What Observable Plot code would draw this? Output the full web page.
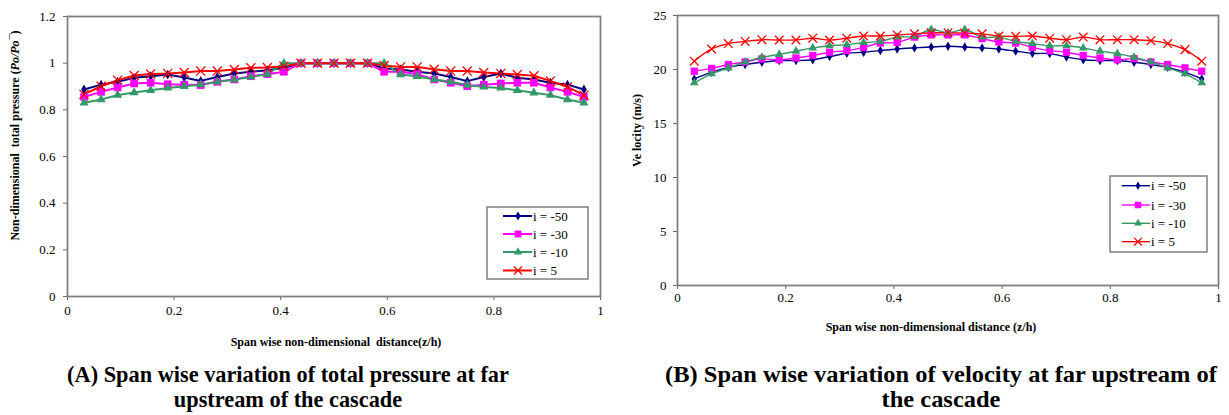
<!DOCTYPE html>
<html><head><meta charset="utf-8">
<script src="https://cdn.jsdelivr.net/npm/d3@7"></script>
<script src="https://cdn.jsdelivr.net/npm/@observablehq/plot@0.6"></script>
<style>
body{margin:0;background:#fff;width:1229px;height:415px;position:relative;overflow:hidden;font-family:"Liberation Serif",serif;color:#000}
#a,#b{position:absolute;top:0}
#a{left:0}#b{left:615px}
svg text{white-space:pre}
.cap{position:absolute;font-weight:bold;font-size:24px;line-height:25px;white-space:nowrap;text-align:center;}
#capA{transform:translateX(-50%) scaleX(0.93);}
#capB{transform:translateX(-50%) scaleX(1.02);}
</style></head><body>
<div id="a"></div><div id="b"></div>
<div class="cap" id="capA" style="left:288px;top:362px">(A) Span wise variation of total pressure at far<br>upstream of the cascade</div>
<div class="cap" id="capB" style="left:941px;top:362px">(B) Span wise variation of velocity at far upstream of<br>the cascade</div>
<script>
// ---------- data ----------
const seriesNames = ["i = -50", "i = -30", "i = -10", "i = 5"];
const seriesColors = ["#000080", "#ff00ff", "#339966", "#ff0000"];
const seriesSymbols = ["diamond", "square", "triangle", "times"];

const span = [0.031,0.063,0.094,0.125,0.156,0.188,0.219,0.25,0.281,0.313,0.344,0.375,0.406,0.438,0.469,0.5,
              0.531,0.563,0.594,0.625,0.656,0.688,0.719,0.75,0.781,0.813,0.844,0.875,0.906,0.938,0.969];

// (A) total pressure
const pM50 = [0.887,0.908,0.920,0.937,0.944,0.951,0.939,0.924,0.941,0.956,0.963,0.970,0.980,1,1,1,1,1,0.977,0.973,0.963,0.956,0.941,0.923,0.941,0.956,0.937,0.930,0.916,0.908,0.887];
const pM30 = [0.855,0.877,0.896,0.913,0.916,0.910,0.908,0.906,0.920,0.930,0.944,0.953,0.963,1,1,1,1,1,0.963,0.963,0.953,0.930,0.916,0.901,0.908,0.913,0.916,0.916,0.896,0.877,0.855];
const pM10 = [0.830,0.844,0.863,0.874,0.884,0.894,0.901,0.908,0.920,0.930,0.941,0.953,1,1,1,1,1,1,1,0.951,0.944,0.930,0.920,0.906,0.898,0.894,0.884,0.873,0.863,0.844,0.830];
const pP5  = [0.866,0.901,0.927,0.947,0.954,0.956,0.960,0.966,0.966,0.973,0.980,0.981,0.987,1,1,1,1,1,0.990,0.984,0.984,0.974,0.966,0.966,0.960,0.956,0.951,0.946,0.924,0.898,0.863];

// (B) velocity
const vM50 = [19.13,19.75,20.2,20.46,20.67,20.83,20.83,20.9,21.2,21.5,21.6,21.75,21.9,22.0,22.08,22.15,22.08,22.0,21.9,21.7,21.5,21.47,21.16,20.9,20.83,20.83,20.67,20.46,20.2,19.75,19.13];
const vM30 = [19.84,20.1,20.46,20.7,20.98,20.9,21.07,21.3,21.6,21.75,22.05,22.45,22.5,23.0,23.2,23.2,23.2,22.86,22.55,22.45,22.05,21.75,21.6,21.3,21.07,20.9,21.0,20.7,20.46,20.15,19.84];
const vM10 = [18.77,19.6,20.15,20.7,21.13,21.4,21.7,22.0,22.2,22.3,22.5,22.6,23.0,23.07,23.7,23.4,23.7,23.0,23.0,22.6,22.4,22.2,22.2,22.0,21.7,21.47,21.13,20.7,20.15,19.6,18.77];
const vP5  = [20.77,21.9,22.4,22.6,22.76,22.73,22.73,22.9,22.73,22.9,23.1,23.1,23.2,23.3,23.4,23.4,23.37,23.3,23.1,23.07,23.1,22.9,22.76,23.0,22.76,22.76,22.76,22.67,22.4,21.84,20.77];

const xTicks = [0, 0.2, 0.4, 0.6, 0.8, 1];
const xTickLabels = ["0", "0.2", "0.4", "0.6", "0.8", "1"];
const yTicksA = [0, 0.2, 0.4, 0.6, 0.8, 1, 1.2];
const yTickLabelsA = ["0", "0.2", "0.4", "0.6", "0.8", "1", "1.2"];
const yTicksB = [0, 5, 10, 15, 20, 25];
const yTickLabelsB = ["0", "5", "10", "15", "20", "25"];

const xTitleA = "Span wise non-dimensional  distance(z/h)";
const yTitleA = "Non-dimensional  total pressure (Po/Po\u00AF)";
const xTitleB = "Span wise non-dimensional distance (z/h)";
const yTitleB = "Ve locity (m/s)";

// ---------- helpers ----------
function table(arrs) {
  const rows = [];
  arrs.forEach((vals, si) => vals.forEach((v, i) => rows.push({x: span[i], v, s: seriesNames[si]})));
  return rows;
}
const symSize = {"i = -50": 3.0, "i = -30": 4.3, "i = -10": 3.4, "i = 5": 4.2};

function chart(o) {
  const rows = table(o.series);
  const dotMarks = seriesNames.map(n => {
    const sub = rows.filter(d => d.s === n);
    return n === "i = 5"
      ? Plot.dot(sub, {x: "x", y: "v", symbol: "s", stroke: "s", r: symSize[n] * o.ms, strokeWidth: 1.3})
      : Plot.dot(sub, {x: "x", y: "v", symbol: "s", fill: "s", r: symSize[n] * o.ms});
  });
  return Plot.plot({
    width: o.width, height: o.height,
    marginLeft: o.ml, marginRight: o.mr, marginTop: o.mt, marginBottom: o.mb,
    style: {fontFamily: "'Liberation Serif', serif", fontSize: "13px", color: "#000", background: "transparent"},
    x: {domain: [0, 1]},
    y: {domain: o.ydomain},
    color: {domain: seriesNames, range: seriesColors},
    symbol: {domain: seriesNames, range: seriesSymbols},
    marks: [
      Plot.axisX({ticks: xTicks, tickFormat: d => xTickLabels[xTicks.indexOf(d)], tickSize: 4, tickPadding: o.xpad, label: null, stroke: "#666"}),
      Plot.axisY({ticks: o.yticks, tickFormat: d => o.ylabels[o.yticks.indexOf(d)], tickSize: 4, tickPadding: o.ypad, label: null, stroke: "#666"}),
      Plot.frame({stroke: "#808080", strokeWidth: 1.8}),
      Plot.line(rows, {x: "x", y: "v", z: "s", stroke: "s", strokeWidth: o.sw, curve: o.curve}),
      ...dotMarks,
      Plot.text([o.xTitle], {frameAnchor: "bottom", text: d => d, dx: o.xtdx, dy: o.xtdy, lineAnchor: "middle", textAnchor: "middle", fontWeight: "bold", fontSize: 12}),
      Plot.text([o.yTitle], {frameAnchor: "left", text: d => d, dx: o.ytdx, dy: o.ytdy, rotate: -90, lineAnchor: "middle", textAnchor: "middle", fontWeight: "bold", fontSize: 12})
    ]
  });
}

function addLegend(svg, L) {
  const g = d3.select(svg).append("g");
  g.append("rect").attr("x", L.x).attr("y", L.y).attr("width", L.w).attr("height", L.h)
    .attr("fill", "#fff").attr("stroke", "#808080").attr("stroke-width", 1.5);
  seriesNames.forEach((n, i) => {
    const y = L.rows[i];
    g.append("line").attr("x1", L.l1).attr("x2", L.l2).attr("y1", y).attr("y2", y)
      .attr("stroke", seriesColors[i]).attr("stroke-width", L.sw);
    const sym = [d3.symbolDiamond, d3.symbolSquare, d3.symbolTriangle, d3.symbolTimes][i];
    const r = symSize[n] * L.ms;
    const p = g.append("path").attr("d", d3.symbol(sym, Math.PI * r * r)())
      .attr("transform", `translate(${L.mx},${y})`);
    if (n === "i = 5") p.attr("fill", "none").attr("stroke", seriesColors[i]).attr("stroke-width", 1.3);
    else p.attr("fill", seriesColors[i]);
    g.append("text").attr("x", L.tx).attr("y", y).attr("dy", "0.35em").attr("text-anchor", "start")
      .attr("font-family", "'Liberation Serif', serif").attr("font-size", 13).attr("fill", "#000").text(n);
  });
}

// ---------- chart A ----------
const svgA = chart({
  series: [pM50, pM30, pM10, pP5], width: 615, height: 360, ml: 67, mr: 15, mt: 16, mb: 64,
  ydomain: [0, 1.2], yticks: yTicksA, ylabels: yTickLabelsA, xpad: 5, ypad: 8, sw: 2, ms: 1, curve: "linear",
  xTitle: xTitleA, yTitle: yTitleA, xtdx: 2, xtdy: 46, ytdx: -52, ytdy: -21
});
document.getElementById("a").appendChild(svgA);
addLegend(svgA, {x: 487, y: 207, w: 101, h: 72, rows: [216, 234, 252, 270.5], l1: 503, l2: 532, mx: 518, tx: 533, sw: 2, ms: 0.9});

// italic Po/Po
d3.select(svgA).selectAll("text").filter(function () { return this.textContent === yTitleA; }).each(function () {
  const t = d3.select(this);
  t.text(null);
  t.append("tspan").text("Non-dimensional  total pressure (");
  t.append("tspan").attr("font-style", "italic").text("Po/Po\u00AF");
  t.append("tspan").text(")");
});

// ---------- chart B ----------
const svgB = chart({
  series: [vM50, vM30, vM10, vP5], width: 614, height: 345, ml: 62, mr: 11, mt: 15, mb: 60,
  ydomain: [0, 25], yticks: yTicksB, ylabels: yTickLabelsB, xpad: 3, ypad: 7, sw: 1.4, ms: 0.95, curve: "catmull-rom",
  xTitle: xTitleB, yTitle: yTitleB, xtdx: -17, xtdy: 42, ytdx: -40, ytdy: -20
});
document.getElementById("b").appendChild(svgB);
addLegend(svgB, {x: 1110 - 615, y: 176, w: 97, h: 76, rows: [185.7, 205, 223.3, 241.7], l1: 1121.7 - 615, l2: 1150 - 615, mx: 1138 - 615, tx: 1151 - 615, sw: 1.4, ms: 0.85});
</script>
</body></html>
